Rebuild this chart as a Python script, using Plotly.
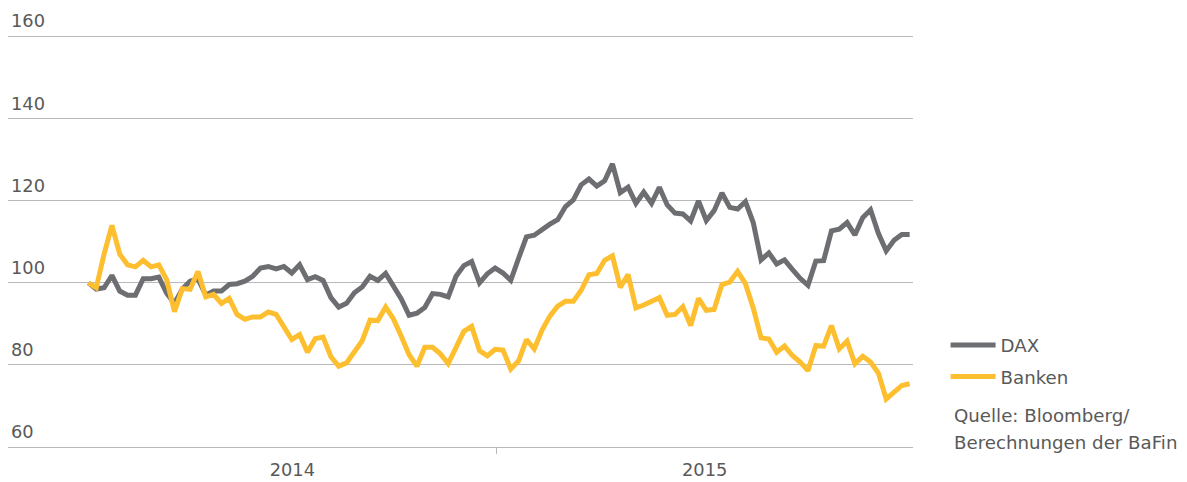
import pandas as pd
import plotly.graph_objects as go

# ---- data (weekly index values, start = 100) ----
dax = [100, 98.5, 98.8, 101.8, 98, 97, 97, 101, 101, 101.4,
       97.5, 95, 98.5, 100.4, 101.0, 97, 98, 98, 99.6, 99.8,
       100.4, 101.6, 103.6, 104, 103.4, 104, 102.4, 104.4, 100.8, 101.5,
       100.6, 96.4, 94.1, 95, 97.6, 99, 101.6, 100.6, 102.3, 99,
       96.1, 92.1, 92.6, 94, 97.4, 97.2, 96.6, 101.6, 104.2, 105.2,
       100, 102.2, 103.6, 102.4, 100.6, 106, 111.2, 111.6, 113.1, 114.3,
       115.4, 118.6, 120.2, 123.9, 125.3, 123.6, 124.9, 129, 122, 123.3,
       119.4, 122.1, 119.4, 123.3, 119, 117, 116.8, 115.1, 120, 115.2,
       117.6, 121.9, 118.4, 118, 119.8, 114.7, 105.6, 107.3, 104.6, 105.6,
       103.3, 101.1, 99.4, 105.3, 105.4, 112.7, 113.1, 114.7, 111.7, 115.9,
       117.8, 112.1, 107.8, 110.4, 111.8, 111.8]

banken = [100, 98.8, 107, 114, 107, 104.4, 103.9, 105.5, 103.9, 104.4,
          100.8, 93, 98.6, 98.4, 102.8, 96.6, 97.2, 95, 96.2, 92.3,
          91.1, 91.7, 91.7, 92.9, 92.3, 89.4, 86.2, 87.4, 83.1, 86.4,
          86.8, 82, 79.7, 80.5, 83.1, 85.9, 90.9, 90.8, 94.1, 91.2,
          87, 82.5, 79.7, 84.3, 84.3, 82.7, 80.3, 84.1, 88.2, 89.4,
          83.5, 82.2, 83.8, 83.6, 79, 81, 86.2, 83.9, 88.5, 91.9,
          94.3, 95.5, 95.5, 98.2, 102, 102.3, 105.5, 106.6, 98.9, 102,
          93.9, 94.6, 95.4, 96.4, 92.1, 92.3, 94.2, 89.6, 96.2, 93.3,
          93.5, 99.6, 100.2, 102.8, 99.8, 93.9, 86.6, 86.3, 83.1, 84.6,
          82.3, 80.7, 78.6, 84.7, 84.6, 89.6, 83.9, 85.8, 80.3, 82.1,
          80.7, 78, 71.7, 73.2, 75, 75.4]

series_names = ["DAX", "Banken"]
year_labels = ["2014", "2015"]
y_ticks = [60, 80, 100, 120, 140, 160]
source_lines = ["Quelle: Bloomberg/", "Berechnungen der BaFin"]

dates = pd.date_range("2014-01-01", periods=len(dax), freq="7D")

# ---- style ----
FONT = "DejaVu Sans"
TXT = "#595959"
GRID = "#b9b9b9"
C_DAX = "#6d6e71"
C_BANK = "#fdbf2f"
FS = 17.8
FS_LEG = 18.2

x_start = pd.Timestamp("2013-10-21")
x_end = pd.Timestamp("2016-01-09")
y15 = pd.Timestamp("2015-01-01")
mid14 = pd.Timestamp("2014-01-01") + (y15 - pd.Timestamp("2014-01-01")) / 2
mid15 = y15 + (x_end - y15) / 2

fig = go.Figure()
fig.add_trace(go.Scatter(x=dates, y=dax, mode="lines", name=series_names[0],
                         line=dict(color=C_DAX, width=5), legendgroup="a"))
fig.add_trace(go.Scatter(x=dates, y=banken, mode="lines", name=series_names[1],
                         line=dict(color=C_BANK, width=5), legendgroup="b"))
# invisible trace on overlay axis for the year-separator tick
fig.add_trace(go.Scatter(x=[y15], y=[None], xaxis="x2", showlegend=False,
                         hoverinfo="skip"))

src_y = [0.0730, 0.0114]
annotations = [dict(text=t, xref="paper", yref="paper", x=1.043, y=yy,
                    xanchor="left", yanchor="middle", align="left",
                    showarrow=False,
                    font=dict(family=FONT, size=FS_LEG, color=TXT))
               for t, yy in zip(source_lines, src_y)]

fig.update_layout(
    width=1179, height=474,
    margin=dict(l=0, r=274, t=2, b=35, autoexpand=False),
    paper_bgcolor="white", plot_bgcolor="white",
    font=dict(family=FONT, size=FS, color=TXT),
    xaxis=dict(range=[x_start, x_end], tickmode="array",
               tickvals=[mid14, mid15], ticktext=year_labels,
               ticks="", showgrid=False, zeroline=False, automargin=False,
               showline=True, linecolor=GRID, linewidth=1.3,
               ticklabelstandoff=6,
               tickfont=dict(family=FONT, size=FS, color=TXT)),
    xaxis2=dict(range=[x_start, x_end], overlaying="x", anchor="y",
                tickmode="array", tickvals=[y15], ticks="outside",
                ticklen=6, tickcolor=GRID, tickwidth=1.3, automargin=False,
                showticklabels=False, showgrid=False, zeroline=False,
                showline=False),
    yaxis=dict(range=[60, 166.5], tickmode="array", tickvals=y_ticks,
               ticklabelposition="inside top", showgrid=True,
               gridcolor=GRID, gridwidth=1.3, zeroline=False,
               showline=False, ticks="", automargin=False,
               ticklabelstandoff=0, ticklabelshift=-3,
               tickfont=dict(family=FONT, size=FS, color=TXT)),
    showlegend=True,
    legend=dict(x=1.036, y=0.2756, xanchor="left", yanchor="top",
                font=dict(family=FONT, size=FS_LEG, color=TXT),
                itemwidth=45, tracegroupgap=5, bgcolor="rgba(0,0,0,0)"),
    annotations=annotations,
)

fig.write_html("out.html")
